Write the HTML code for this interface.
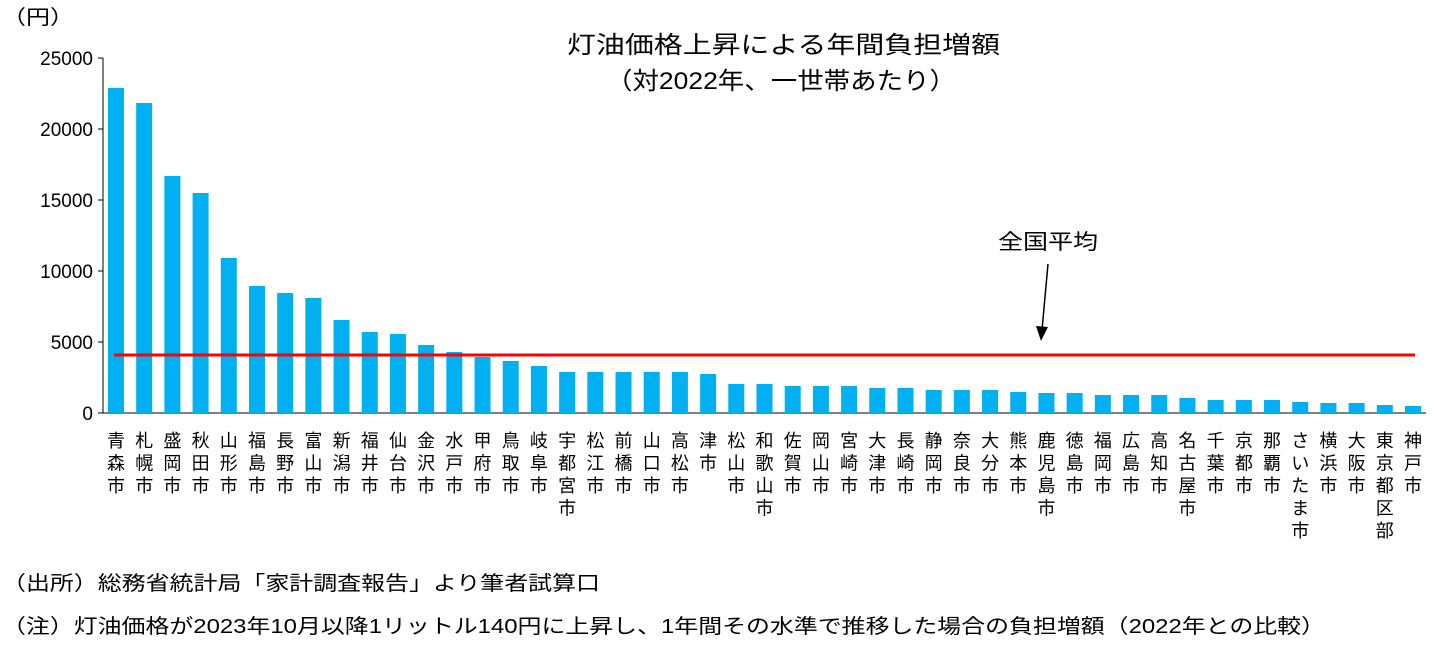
<!DOCTYPE html>
<html><head><meta charset="utf-8"><style>
body{margin:0;background:#fff;}
svg text{font-family:"Liberation Sans","Noto Sans CJK JP",sans-serif;fill:#000;}
</style></head><body>
<svg width="1432" height="645" xmlns="http://www.w3.org/2000/svg">
<text x="2" y="24" font-size="20" textLength="72" lengthAdjust="spacingAndGlyphs">（円）</text>
<g font-size="19" text-anchor="end">
<text x="93" y="65">25000</text><text x="93" y="136">20000</text><text x="93" y="207">15000</text>
<text x="93" y="278">10000</text><text x="93" y="349">5000</text><text x="93" y="420">0</text>
</g>
<g stroke="#000" stroke-width="1">
<line x1="103" y1="58" x2="103" y2="413"/>
<line x1="103" y1="413" x2="1426" y2="413"/>
<line x1="98" y1="58" x2="103" y2="58"/><line x1="98" y1="129" x2="103" y2="129"/>
<line x1="98" y1="200" x2="103" y2="200"/><line x1="98" y1="271" x2="103" y2="271"/>
<line x1="98" y1="342" x2="103" y2="342"/><line x1="98" y1="413" x2="103" y2="413"/>
</g>
<text x="567" y="53" font-size="24" textLength="433" lengthAdjust="spacingAndGlyphs">灯油価格上昇による年間負担増額</text>
<text x="606" y="89" font-size="24" textLength="350" lengthAdjust="spacingAndGlyphs">（対2022年、一世帯あたり）</text>
<g id="bars" fill="#00B0F0"></g>
<g id="labels" font-size="18" text-anchor="middle"></g>
<line x1="114" y1="355" x2="1415" y2="355" stroke="#FF0000" stroke-width="3"/>
<text x="998" y="249" font-size="21" textLength="100" lengthAdjust="spacingAndGlyphs">全国平均</text>
<line x1="1048" y1="264" x2="1042" y2="330" stroke="#000" stroke-width="1.5"/>
<polygon points="1036,326 1048,327 1041,341" fill="#000"/>
<text x="2" y="590" font-size="20" textLength="598" lengthAdjust="spacingAndGlyphs">（出所）総務省統計局「家計調査報告」より筆者試算口</text>
<text x="2" y="633" font-size="20" textLength="1323" lengthAdjust="spacingAndGlyphs">（注）灯油価格が2023年10月以降1リットル140円に上昇し、1年間その水準で推移した場合の負担増額（2022年との比較）</text>
</svg>
<script>
var tops=[88,103,176,193,258,286,293,298,320,332,334,345,352,357,361,366,372,372,372,372,372,374,384,384,386,386,386,388,388,390,390,390,392,393,393,395,395,395,398,400,400,400,402,403,403,405,406];
var names=["青森市","札幌市","盛岡市","秋田市","山形市","福島市","長野市","富山市","新潟市","福井市","仙台市","金沢市","水戸市","甲府市","鳥取市","岐阜市","宇都宮市","松江市","前橋市","山口市","高松市","津市","松山市","和歌山市","佐賀市","岡山市","宮崎市","大津市","長崎市","静岡市","奈良市","大分市","熊本市","鹿児島市","徳島市","福岡市","広島市","高知市","名古屋市","千葉市","京都市","那覇市","さいたま市","横浜市","大阪市","東京都区部","神戸市"];
var b=document.getElementById('bars'),l=document.getElementById('labels'),ns="http://www.w3.org/2000/svg";
for(var i=0;i<47;i++){var cx=116+i*(1413-116)/46;
var r=document.createElementNS(ns,'rect');r.setAttribute('x',cx-8);r.setAttribute('y',tops[i]);r.setAttribute('width',16);r.setAttribute('height',413-tops[i]);b.appendChild(r);
for(var j=0;j<names[i].length;j++){var t=document.createElementNS(ns,'text');t.setAttribute('x',cx);t.setAttribute('y',447+j*22.5);t.textContent=names[i][j];l.appendChild(t);}}
</script>
</body></html>
